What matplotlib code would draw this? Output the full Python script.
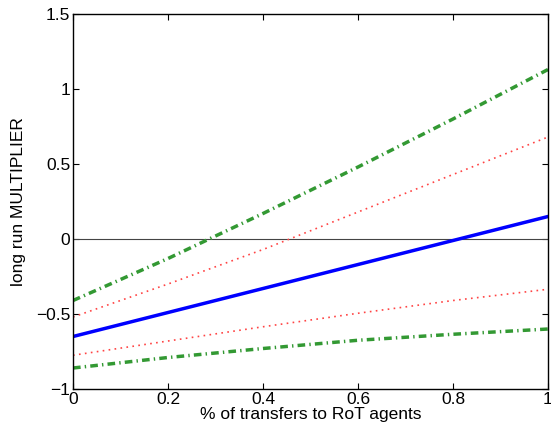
import numpy as np
import matplotlib
matplotlib.use('Agg')
import matplotlib.pyplot as plt

plt.rcParams['font.family'] = ['Liberation Sans', 'DejaVu Sans']

share = [0.0, 0.2, 0.4, 0.6, 0.8, 1.0]
mult_mean = [-0.65, -0.49, -0.33, -0.17, -0.01, 0.15]
band68_hi = [-0.52, -0.30, -0.07, 0.18, 0.43, 0.68]
band68_lo = [-0.775, -0.68, -0.585, -0.495, -0.41, -0.335]
band90_hi = [-0.41, -0.13, 0.17, 0.48, 0.80, 1.13]
band90_lo = [-0.86, -0.79, -0.73, -0.675, -0.635, -0.60]

fig = plt.figure(figsize=(5.51, 4.33), dpi=100)
ax = fig.add_axes([0.1325, 0.1016, 0.862, 0.866])

ax.axhline(0, color='#444444', lw=0.8)
ax.plot(share, band90_hi, color='#339933', lw=2.5, dashes=(2.2, 1.2, 0.4, 1.2))
ax.plot(share, band90_lo, color='#339933', lw=2.5, dashes=(2.2, 1.2, 0.4, 1.2))
ax.plot(share, band68_hi, color='#ff4444', lw=1.2, dashes=(1, 2.6))
ax.plot(share, band68_lo, color='#ff4444', lw=1.2, dashes=(1, 2.6))
ax.plot(share, mult_mean, color='#0000ff', lw=2.5)

ax.set_xlim(0, 1)
ax.set_ylim(-1, 1.5)
ax.set_xticks([0, 0.2, 0.4, 0.6, 0.8, 1])
ax.set_xticklabels(['0', '0.2', '0.4', '0.6', '0.8', '1'])
ax.set_yticks([-1, -0.5, 0, 0.5, 1, 1.5])
ax.set_yticklabels(['\u22121', '\u22120.5', '0', '0.5', '1', '1.5'])
ax.tick_params(direction='in', top=True, right=True, labelsize=12.5, length=4)
ax.tick_params(axis='y', pad=2)
ax.tick_params(axis='x', pad=2)
for s in ax.spines.values():
    s.set_linewidth(1.0)

ax.set_xlabel('% of transfers to RoT agents', fontsize=12.5, labelpad=0)
ax.set_ylabel('long run MULTIPLIER', fontsize=12.5, labelpad=7)

fig.savefig('out.png', dpi=100)
